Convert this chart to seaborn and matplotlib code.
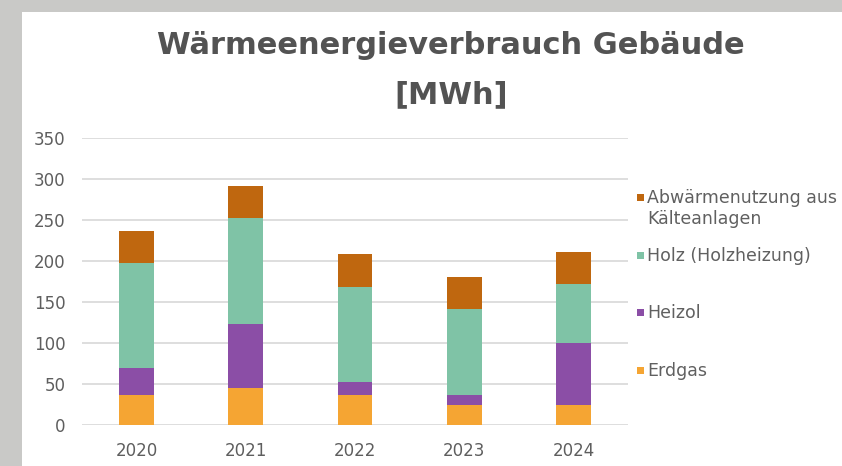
import matplotlib
matplotlib.use("Agg")
import matplotlib.pyplot as plt
import seaborn as sns
import numpy as np
from matplotlib.patches import Rectangle

years = ["2020", "2021", "2022", "2023", "2024"]
erdgas = [37, 45, 37, 24, 24]
heizoel = [33, 78, 16, 12, 76]
holz = [127, 129, 115, 106, 72]
abwaerme = [40, 39, 40, 39, 39]

series_names = ["Erdgas", "Heizol", "Holz (Holzheizung)", "Abwärmenutzung aus\nKälteanlagen"]
series_vals = [erdgas, heizoel, holz, abwaerme]
colors = ["#F5A533", "#8B4EA6", "#7FC3A6", "#BF670F"]
yticks = [0, 50, 100, 150, 200, 250, 300, 350]

sns.set_theme(style="white")
plt.rcParams["font.family"] = ["DejaVu Sans"]

W, H = 842, 466
fig = plt.figure(figsize=(8.42, 4.66), dpi=100)
fig.patch.set_facecolor("#c9c9c7")

bg = fig.add_axes([22 / W, 0, 1 - 22 / W, 1 - 12 / H], zorder=-5)
bg.set_facecolor("white")
bg.set_xticks([])
bg.set_yticks([])
for s in bg.spines.values():
    s.set_visible(False)

ax = fig.add_axes([82 / W, (H - 425) / H, (628 - 82) / W, (425 - 138) / H], zorder=1)
ax.set_facecolor("none")

bottom = np.zeros(len(years))
for name, vals, c in zip(series_names, series_vals, colors):
    sns.barplot(x=years, y=vals, bottom=bottom, color=c, width=0.32, ax=ax,
                edgecolor="none", linewidth=0, saturation=1, zorder=3)
    bottom = bottom + np.array(vals)

ax.set_ylim(0, 350)
ax.set_xlim(-0.5, 4.5)
ax.set_yticks(yticks)
ax.set_yticklabels([str(t) for t in yticks])
ax.yaxis.grid(True, color="#dedede", linewidth=1.4, zorder=0)
ax.set_axisbelow(True)
for s in ax.spines.values():
    s.set_visible(False)
ax.tick_params(axis="y", colors="#5e5e5e", labelsize=12, length=0, pad=12)
ax.tick_params(axis="x", colors="#5e5e5e", labelsize=12, length=0, pad=12)
ax.set_xlabel("")
ax.set_ylabel("")

fig.text(451 / W, 1 - 45 / H, "Wärmeenergieverbrauch Gebäude", ha="center", va="center",
         fontsize=22, fontweight="bold", color="#535353")
fig.text(451 / W, 1 - 95 / H, "[MWh]", ha="center", va="center",
         fontsize=22, fontweight="bold", color="#535353")

# legend (manual placement to match reference spacing)
leg_y = [370, 312, 255, 197]  # first-line centers in px, order of series
for name, c, yy in zip(series_names, colors, leg_y):
    fig.patches.append(Rectangle((637 / W, 1 - (yy + 4) / H), 7 / W, 7 / H,
                                 transform=fig.transFigure, facecolor=c,
                                 edgecolor="none", zorder=5))
    fig.text(647 / W, 1 - (yy - 8) / H, name, ha="left", va="top", fontsize=12.5,
             color="#606060", linespacing=1.2)

fig.savefig("out.png", dpi=100)
